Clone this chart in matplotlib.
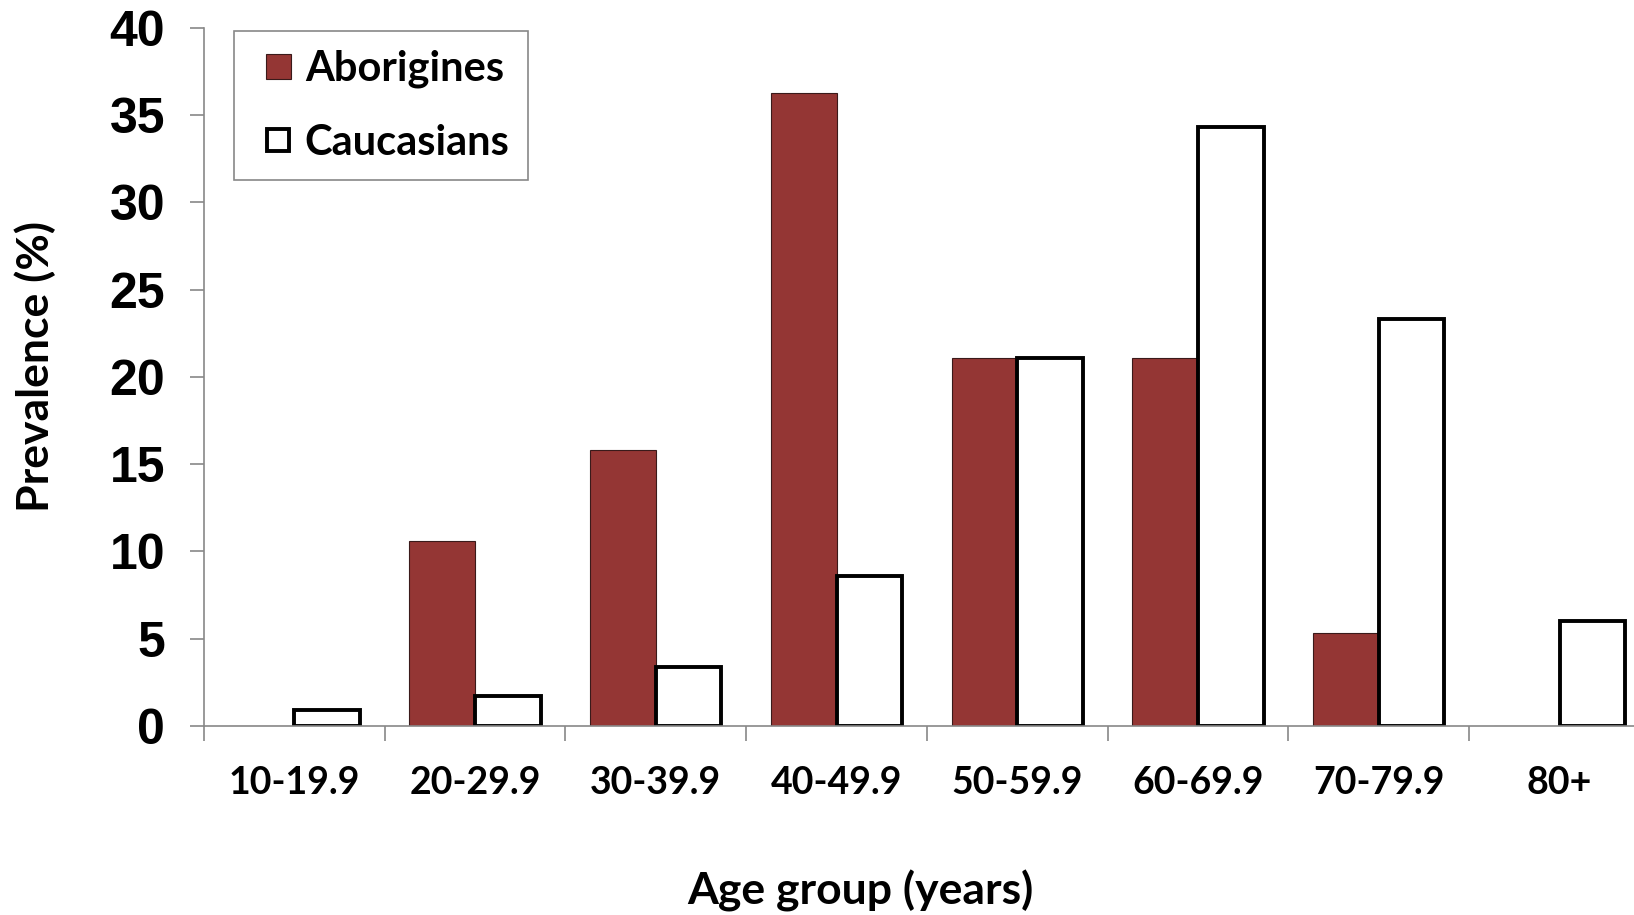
import numpy as np
import matplotlib.pyplot as plt
from matplotlib.lines import Line2D

# age groups and prevalence (%)
groups = ["10-19.9", "20-29.9", "30-39.9", "40-49.9",
          "50-59.9", "60-69.9", "70-79.9", "80+"]
aborigines = [0, 10.6, 15.8, 36.3, 21.1, 21.1, 5.3, 0]
caucasians = [0.9, 1.7, 3.4, 8.6, 21.1, 34.3, 23.3, 6.0]
yticks = [0, 5, 10, 15, 20, 25, 30, 35, 40]

red = "#943634"
lbl_font = "Lato"

fig = plt.figure(figsize=(16.34, 9.15), dpi=100)
# axes runs a little past the right edge, as in the original crop
ax = fig.add_axes([0.1248, 0.2066, 0.885, 0.7628])

x = np.arange(len(groups)) + 0.5
w = 0.363
ax.bar(x - w / 2, aborigines, w, color=red, edgecolor="#3a1a1a", linewidth=0.8)
ax.bar(x + w / 2, caucasians, w, color="white", edgecolor="black", linewidth=2.8)

ax.set_xlim(0, len(groups))
ax.set_ylim(0, 40)
for s in ["top", "right"]:
    ax.spines[s].set_visible(False)
for s in ["left", "bottom"]:
    ax.spines[s].set_color("#888888")
    ax.spines[s].set_linewidth(1.2)

ax.set_yticks(yticks)
ax.set_yticklabels([str(v) for v in yticks], fontsize=36, fontweight="bold",
                   family="Liberation Sans")
ax.tick_params(axis="y", length=10, width=1.2, color="#888888", pad=18)

ax.set_xticks(np.arange(len(groups) + 1))
ax.set_xticklabels([])
ax.tick_params(axis="x", which="major", length=11, width=1.2, color="#888888")
ax.set_xticks(x, minor=True)
ax.set_xticklabels(groups, minor=True, fontsize=27, fontweight="bold", family=lbl_font)
ax.tick_params(axis="x", which="minor", length=0, pad=29)

fig.text(0.5265, 0.026, "Age group (years)", fontsize=32, fontweight="bold",
         family=lbl_font, ha="center", va="center")
fig.text(0.0214, 0.599, "Prevalence (%)", fontsize=32, fontweight="bold",
         family=lbl_font, ha="center", va="center", rotation=90)

# square markers so the swatch sits a bit in from the frame
handles = [Line2D([], [], ls="none", marker="s", markersize=18,
                  markerfacecolor=red, markeredgecolor="#3a1a1a", markeredgewidth=0.8),
           Line2D([], [], ls="none", marker="s", markersize=16.5,
                  markerfacecolor="white", markeredgecolor="black", markeredgewidth=2.8)]
leg = fig.legend(handles, ["Aborigines", "Caucasians"], loc="upper left",
                 bbox_to_anchor=(234 / 1634, 1 - 31 / 915), borderaxespad=0,
                 prop={"family": lbl_font, "weight": "bold", "size": 30},
                 fancybox=False, framealpha=1, edgecolor="#888888",
                 handlelength=1.2, handletextpad=0.05,
                 labelspacing=0.85, borderpad=0.45)
leg.get_frame().set_linewidth(1.2)

fig.savefig("out.png", dpi=100)
